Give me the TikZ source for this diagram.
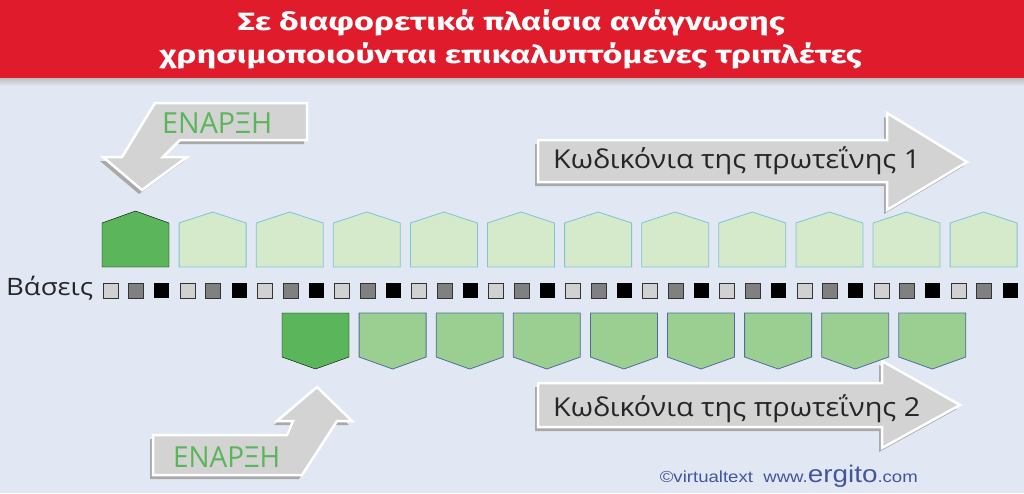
\documentclass[tikz,border=0pt]{standalone}
\usepackage{fontspec}
\usepackage{graphicx}
\setmainfont{Open Sans}
\newfontfamily\titlefont{Fira Sans}
\newfontfamily\creditfont{Liberation Sans}
\definecolor{bgblue}{HTML}{E1E8F4}
\definecolor{headred}{HTML}{E01C2C}
\definecolor{startgreen}{HTML}{5BB55A}
\definecolor{palegreen}{HTML}{D4EACB}
\definecolor{paleedge}{HTML}{7EC4D3}
\definecolor{midgreen}{HTML}{9BCF91}
\definecolor{midedge}{HTML}{4D6E9C}
\definecolor{arrowgray}{HTML}{D3D3D3}
\definecolor{shadowgray}{HTML}{A9A9A9}
\definecolor{creditblue}{HTML}{44559C}

\begin{document}
\begin{tikzpicture}[x=1pt,y=-1pt,
  arrowbody/.style={fill=arrowgray, draw=white, line width=2.5pt},
  arrowshadow/.style={fill=shadowgray, shift={(-3,4)}},
  startcodon/.style={fill=startgreen},
  topcodon/.style={fill=palegreen, draw=paleedge, line width=0.8pt},
  lowcodon/.style={fill=midgreen, draw=midedge, line width=0.8pt},
  baselight/.style={fill=black!18, draw=black!80, line width=0.8pt},
  basemid/.style={fill=black!50, draw=black!80, line width=0.8pt},
  basedark/.style={fill=black},
  label/.style={inner sep=0pt, anchor=base west}]
\useasboundingbox (0,0) rectangle (1024,493);
\fill[bgblue] (0,0) rectangle (1024,493);
\shade[top color=black!25, bottom color=bgblue] (0,78) rectangle (1024,86);
\fill[headred] (0,0) rectangle (1024,78);
\node[inner sep=0pt, anchor=base, text=white] (title1) at (511.5,30)
  {\resizebox{547pt}{\height}{\titlefont\bfseries\fontsize{25}{30}\selectfont Σε διαφορετικά πλαίσια ανάγνωσης}};
\node[inner sep=0pt, anchor=base, text=white] (title2) at (511,63)
  {\resizebox{702pt}{\height}{\titlefont\bfseries\fontsize{25}{30}\selectfont χρησιμοποιούνται επικαλυπτόμενες τριπλέτες}};

% arrows
\foreach \s in {arrowshadow, arrowbody}
  \path[\s] (155,103) -- (307,103) -- (307,140) -- (180,140) -- (163,157) -- (187,157)
    -- (142,190) -- (103,157) -- (122,157) -- cycle;
\foreach \s in {arrowshadow, arrowbody}
  \path[\s] (153,435) -- (287,435) -- (293,421) -- (277,421) -- (317,387) -- (352,421)
    -- (337,421) -- (302,475) -- (153,475) -- cycle;
\foreach \s in {arrowshadow, arrowbody}
  \path[\s] (538,140) -- (887,140) -- (887,113) -- (967,162) -- (887,210) -- (887,182)
    -- (538,182) -- cycle;
\foreach \s in {arrowshadow, arrowbody}
  \path[\s] (538,383) -- (882,383) -- (882,361) -- (960,405) -- (882,448) -- (882,427)
    -- (538,427) -- cycle;

\node[label, text=startgreen] (start1) at (162,133)
  {\resizebox{110pt}{\height}{\fontsize{29}{32}\selectfont ΕΝΑΡΞΗ}};
\node[label, text=startgreen] (start2) at (173,467)
  {\resizebox{107pt}{\height}{\fontsize{29}{32}\selectfont ΕΝΑΡΞΗ}};
\node[label, text=black!85] (prot1) at (553,168)
  {\resizebox{367pt}{\height}{\fontsize{26}{30}\selectfont Κωδικόνια της πρωτεΐνης 1}};
\node[label, text=black!85] (prot2) at (553,416)
  {\resizebox{367pt}{\height}{\fontsize{26}{30}\selectfont Κωδικόνια της πρωτεΐνης 2}};

% codons, frame 1
\draw[startcodon] (102,267) -- (102,223) -- (135.5,211) -- (169,223) -- (169,267) -- cycle;
\foreach \k in {1,...,11}
  \draw[topcodon, xshift=77.1*\k] (102,267) -- (102,223) -- (135.5,212) -- (169,223) -- (169,267) -- cycle;

% bases
\node[label, text=black!85] (bases) at (6,295)
  {\resizebox{87pt}{\height}{\fontsize{24}{28}\selectfont Βάσεις}};
\foreach \k in {0,...,11} {
  \draw[baselight, xshift=77.1*\k] (103,283) rectangle ++(15,15);
  \draw[basemid, xshift=77.1*\k] (128.7,283) rectangle ++(15,15);
  \fill[basedark, xshift=77.1*\k] (154.4,283) rectangle ++(15,15);
}

% codons, frame 2
\draw[startcodon] (282,313) -- (349,313) -- (349,357) -- (315.5,369) -- (282,357) -- cycle;
\foreach \k in {1,...,8}
  \draw[lowcodon, xshift=77.1*\k] (282,313) -- (349,313) -- (349,357) -- (315.5,369) -- (282,357) -- cycle;

\node[inner sep=0pt, anchor=base east, text=creditblue] (credit) at (918,482)
  {\resizebox{258pt}{\height}{\creditfont\fontsize{16}{18}\selectfont ©virtualtext\ \ www.{\fontsize{24}{26}\selectfont ergito}.com}};
\end{tikzpicture}
\end{document}
